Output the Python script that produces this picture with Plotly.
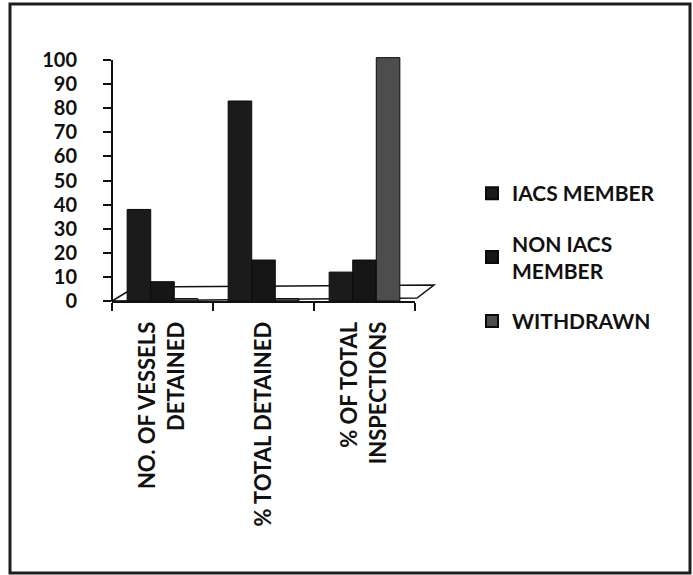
import plotly.graph_objects as go

categories = ["NO. OF VESSELS<br>DETAINED", "% TOTAL DETAINED", "% OF TOTAL<br>INSPECTIONS"]
series_names = ["IACS MEMBER", "NON IACS<br>MEMBER", "WITHDRAWN"]
iacs_member = [38, 83, 12]
non_iacs_member = [8, 17, 17]
withdrawn = [1, 1, 101]
series_values = [iacs_member, non_iacs_member, withdrawn]
series_colors = ["#1b1b1b", "#161616", "#4d4d4d"]
y_ticks = [0, 10, 20, 30, 40, 50, 60, 70, 80, 90, 100]

FONT = "Lato"

fig = go.Figure()
for i, (name, vals, col) in enumerate(zip(series_names, series_values, series_colors)):
    fig.add_trace(go.Bar(
        x=categories, y=vals, name=name,
        marker=dict(color=col, line=dict(color="#0a0a0a", width=1)),
        legendgroup=str(i),
    ))

W, H = 693, 575
L, R, T, B = 112, 278, 48, 274
pw = W - L - R
ph = H - T - B

def px(x):
    return (x - L) / pw

def py(y):
    return ((H - B) - y) / ph

shapes = [
    # floor (3D base plane), decorative
    dict(type="path", xref="paper", yref="paper", layer="below",
         path=f"M {px(112)},{py(301)} L {px(417)},{py(298)} L {px(434)},{py(285)} L {px(135)},{py(287)} Z",
         line=dict(color="#111", width=1.5), fillcolor="rgba(0,0,0,0)"),
    # y axis line 0..100
    dict(type="line", xref="paper", yref="y", x0=0, x1=0, y0=0, y1=100,
         line=dict(color="#111", width=2)),
    # outer frame
    dict(type="rect", xref="paper", yref="paper",
         x0=px(10), x1=px(690), y0=py(573), y1=py(4),
         line=dict(color="#1e1e1e", width=3), fillcolor="rgba(0,0,0,0)", layer="below"),
]

fig.update_layout(
    width=W, height=H,
    margin=dict(l=L, r=R, t=T, b=B, pad=0),
    paper_bgcolor="white", plot_bgcolor="white",
    barmode="group", bargap=0.3, bargroupgap=0,
    font=dict(family=FONT, color="#111"),
    showlegend=True,
    legend=dict(x=px(472), xanchor="left", y=py(173), yanchor="top",
                font=dict(family=FONT, size=21, color="#111", weight="bold"),
                tracegroupgap=20, itemsizing="constant", itemwidth=30,
                bgcolor="rgba(0,0,0,0)"),
    shapes=shapes,
)
fig.update_xaxes(
    type="category", showline=True, linecolor="#111", linewidth=2,
    ticks="outside", tickson="boundaries", ticklen=8, tickcolor="#111", tickwidth=2,
    tickangle=-90, showgrid=False,
    tickfont=dict(family=FONT, size=22, color="#111", weight="bold"),
    ticklabelstandoff=10,
    range=[-0.5, 2.5],
)
fig.update_yaxes(
    range=[0, 105], tickvals=y_ticks, showline=False,
    ticks="outside", ticklen=8, tickcolor="#111", tickwidth=2, showgrid=False,
    tickfont=dict(family=FONT, size=20, color="#111", weight="bold"),
    ticklabelstandoff=22, zeroline=False,
)
fig.write_html("out.html")
